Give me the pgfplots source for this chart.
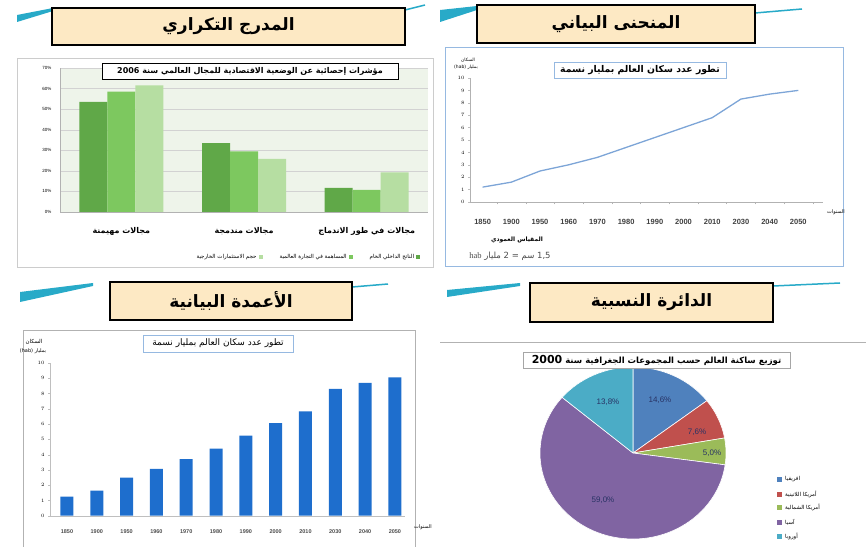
\documentclass[border=0pt]{standalone}
\usepackage{pgfplots}
\pgfplotsset{compat=1.18}
\usepackage{fontspec}
\setmainfont{Liberation Sans}
\newfontfamily\ar[Script=Arabic]{DejaVu Sans}
\newfontfamily\serif{Liberation Serif}
\TeXXeTstate=1
\newcommand\AR[1]{{\ar\beginR #1\endR}}
\newcommand\LR[1]{\beginL #1\endL{}}
\newcommand\fs[1]{\fontsize{#1}{#1}\selectfont}
\definecolor{peach}{RGB}{253,233,196}
\definecolor{teal1}{RGB}{40,170,200}
\definecolor{gdark}{RGB}{96,168,72}
\definecolor{gmed}{RGB}{125,200,95}
\definecolor{glight}{RGB}{182,222,162}
\definecolor{plotbg}{RGB}{238,244,234}
\definecolor{lineblue}{RGB}{125,165,215}
\definecolor{barblue}{RGB}{30,110,205}
\definecolor{pafr}{RGB}{79,129,189}
\definecolor{plat}{RGB}{192,80,77}
\definecolor{pna}{RGB}{155,187,89}
\definecolor{pasia}{RGB}{128,100,162}
\definecolor{peur}{RGB}{75,172,198}
\definecolor{framebl}{RGB}{150,185,225}
\definecolor{pielab}{RGB}{40,50,100}
\begin{document}
\begin{tikzpicture}[x=1pt,y=1pt]
\path[use as bounding box] (0pt,0pt) rectangle (866pt,546pt);
% ---------- decorative swooshes ----------
\fill[teal1] (17,531) -- (53,538) -- (53,535) -- (17,524) -- cycle;
\draw[teal1,line width=1.5pt] (405,536) -- (425,541);
\fill[teal1] (440,536) -- (477,540) -- (477,536) -- (440,524) -- cycle;
\draw[teal1,line width=1.5pt] (755,533) -- (802,537);
\fill[teal1] (20,254) -- (93,263) -- (93,260) -- (20,244) -- cycle;
\draw[teal1,line width=1.5pt] (352,259) -- (388,262);
\fill[teal1] (447,256) -- (520,263) -- (520,260) -- (447,249) -- cycle;
\draw[teal1,line width=1.5pt] (773,260) -- (840,263);
% ---------- title boxes ----------
\draw[fill=peach,line width=1.3pt] (52,538) rectangle (405,501);
\node[font=\ar\bfseries\fs{17}] at (228.5,519.5) {\AR{المدرج التكراري}};
\draw[fill=peach,line width=1.3pt] (477,541) rectangle (755,503);
\node[font=\ar\bfseries\fs{17}] at (616,522) {\AR{المنحنى البياني}};
\draw[fill=peach,line width=1.3pt] (110,264) rectangle (352,226);
\node[font=\ar\bfseries\fs{17}] at (231,245) {\AR{الأعمدة البيانية}};
\draw[fill=peach,line width=1.3pt] (530,263) rectangle (773,224);
\node[font=\ar\bfseries\fs{17}] at (651.5,243.5) {\AR{الدائرة النسبية}};

% ================= Panel 1: grouped bars =================
\draw[gray!40] (17,488) rectangle (433,279);
\begin{axis}[at={(60pt,334pt)}, anchor=south west, scale only axis,
  width=368pt, height=144pt,
  xmin=-0.5, xmax=2.5, ymin=0, ymax=70,
  ybar=0pt, bar width=28pt,
  xtick={0,1,2},
  xticklabels={{\ar\beginR مجالات مهيمنة\endR},{\ar\beginR مجالات مندمجة\endR},{\ar\beginR مجالات في طور الاندماج\endR}},
  xticklabel style={font=\ar\bfseries\fs{8}, yshift=-8pt},
  major x tick style={draw=none},
  ytick={0,10,...,70},
  yticklabels={0\%,10\%,20\%,30\%,40\%,50\%,60\%,70\%},
  yticklabel style={font=\fs{4.5}, xshift=-5pt},
  major y tick style={draw=none},
  ymajorgrids, grid style={gray!35},
  axis background/.style={fill=plotbg},
  axis lines*=left, axis line style={gray!60,-},
  legend plot pos=right, reverse legend,
  legend columns=3,
  legend style={at={(0.672,-0.3125)}, anchor=center, draw=none, fill=none,
    font=\ar\fs{5.5}, /tikz/every even column/.append style={column sep=15pt}},
  legend image code/.code={\fill[#1] (0pt,-2pt) rectangle (4pt,2pt);},
]
\addplot[fill=gdark,draw=none] coordinates {(0,53.5) (1,33.5) (2,11.7)};
\addplot[fill=gmed,draw=none] coordinates {(0,58.5) (1,29.5) (2,10.7)};
\addplot[fill=glight,draw=none] coordinates {(0,61.5) (1,25.8) (2,19.3)};
\addlegendentry{\AR{الناتج الداخلي الخام}}
\addlegendentry{\AR{المساهمة في التجارة العالمية}}
\addlegendentry{\AR{حجم الاستثمارات الخارجية}}
\end{axis}
\node[draw=black, fill=white, minimum width=296pt, minimum height=16pt, inner sep=0pt,
  font=\ar\bfseries\fs{8}] at (250,475)
  {\AR{مؤشرات إحصائية عن الوضعية الاقتصادية للمجال العالمي سنة \LR{2006}}};

% ================= Panel 2: line =================
\draw[framebl,line width=1pt] (445,498) rectangle (843,279);
\begin{axis}[at={(470pt,344pt)}, anchor=south west, scale only axis,
  width=353pt, height=124pt,
  xmin=-0.44, xmax=11.86, ymin=0, ymax=10,
  xtick={0,...,11},
  xticklabels={1850,1900,1950,1960,1970,1980,1990,2000,2010,2030,2040,2050},
  xticklabel style={font=\bfseries\fs{7.5}, text=black!75, yshift=-12pt},
  major x tick style={draw=none},
  minor xtick={0.5,1.5,...,11.5}, minor tick length=2.5pt,
  minor x tick style={gray!60},
  ytick={0,...,10},
  yticklabel style={font=\fs{4.5}},
  major tick length=2pt, tick align=outside,
  y tick style={gray!50},
  axis lines*=left, axis line style={gray!60,-},
]
\addplot[lineblue, line width=1.3pt] coordinates {
 (0,1.2) (1,1.6) (2,2.5) (3,3.0) (4,3.6) (5,4.4) (6,5.2) (7,6.0) (8,6.8) (9,8.3) (10,8.7) (11,9.0)};
\end{axis}
\node[draw=framebl, fill=white, minimum width=172pt, minimum height=16pt, inner sep=0pt,
  font=\ar\bfseries\fs{9.3}] at (640,476) {\AR{تطور عدد سكان العالم بمليار نسمة}};
\node[font=\ar\fs{4.5}] at (468,486) {\AR{السكان}};
\node[font=\ar\fs{4.5}] at (466,479) {\AR{بمليار \LR{(hab)}}};
\node[font=\ar\fs{5}] at (836,334) {\AR{السنوات}};
\node[font=\ar\bfseries\fs{6}] at (517,306) {\AR{المقياس العمودي}};
\node[font=\ar\fs{8.5}, text=black!70] at (510,290) {\AR{\LR{1,5} سم = \LR{2} مليار \LR{\serif hab}}};

% ================= Panel 3: bars =================
\draw[gray!60] (23,-5) -- (23,216) -- (415,216) -- (415,-5);
\begin{axis}[at={(50pt,30.3pt)}, anchor=south west, scale only axis,
  width=355pt, height=152.7pt,
  xmin=-0.57, xmax=11.34, ymin=0, ymax=10,
  ybar, bar width=13pt,
  xtick={0,...,11},
  xticklabels={1850,1900,1950,1960,1970,1980,1990,2000,2010,2030,2040,2050},
  xticklabel style={font=\bfseries\fs{5.5}, text=black!70, yshift=-8pt},
  major x tick style={draw=none},
  ytick={0,...,10},
  yticklabel style={font=\fs{4.5}},
  major tick length=2pt, tick align=outside,
  y tick style={gray!50},
  axis lines*=left, axis line style={gray!50,-},
]
\addplot[fill=barblue, draw=none] coordinates {
 (0,1.25) (1,1.64) (2,2.5) (3,3.06) (4,3.7) (5,4.4) (6,5.25) (7,6.06) (8,6.83) (9,8.3) (10,8.7) (11,9.06)};
\end{axis}
\node[draw=framebl, fill=white, minimum width=150pt, minimum height=17pt, inner sep=0pt,
  font=\ar\fs{9}] at (218,202.5) {\AR{تطور عدد سكان العالم بمليار نسمة}};
\node[font=\ar\fs{5.5}] at (34,204) {\AR{السكان}};
\node[font=\ar\fs{5}] at (33,195) {\AR{بمليار \LR{(hab)}}};
\node[font=\ar\fs{5}] at (423,19) {\AR{السنوات}};

% ================= Panel 4: pie =================
\draw[gray!60,line width=0.8pt] (440,204) -- (866,204);
\def\acc{90}
\foreach \p/\c in {14.6/pafr,7.6/plat,5.0/pna,59.0/pasia,13.8/peur}{
  \pgfmathsetmacro\e{\acc-3.6*\p}
  \fill[\c,draw=white,line width=0.6pt] (633,93) -- ++(\acc:93 and 86)
     arc[start angle=\acc, end angle=\e, x radius=93, y radius=86] -- cycle;
  \xdef\acc{\e}
}
\node[font=\fs{8}, text=pielab] at (660,146) {14,6\%};
\node[font=\fs{8}, text=pielab] at (697,114) {7,6\%};
\node[font=\fs{8}, text=pielab] at (712,93) {5,0\%};
\node[font=\fs{8}, text=pielab] at (603,46) {59,0\%};
\node[font=\fs{8}, text=pielab] at (608,144) {13,8\%};
\node[draw=gray!70, fill=white, minimum width=267pt, minimum height=16pt, inner sep=0pt,
  font=\ar\bfseries\fs{8.5}] at (656.5,186) {\AR{توزيع ساكنة العالم حسب المجموعات الجغرافية سنة \LR{\fs{11}\bfseries 2000}}};
\foreach \c/\t/\yy in {pafr/افريقيا/67, plat/أمريكا اللاتينية/52, pna/أمريكا الشمالية/39, pasia/آسيا/24, peur/أوروبا/10}{
  \fill[\c] (777,\yy-2.5) rectangle (782,\yy+2.5);
  \node[anchor=west, font=\ar\fs{5.5}, inner sep=1pt] at (784,\yy) {\AR{\t}};
}
\end{tikzpicture}
\end{document}
